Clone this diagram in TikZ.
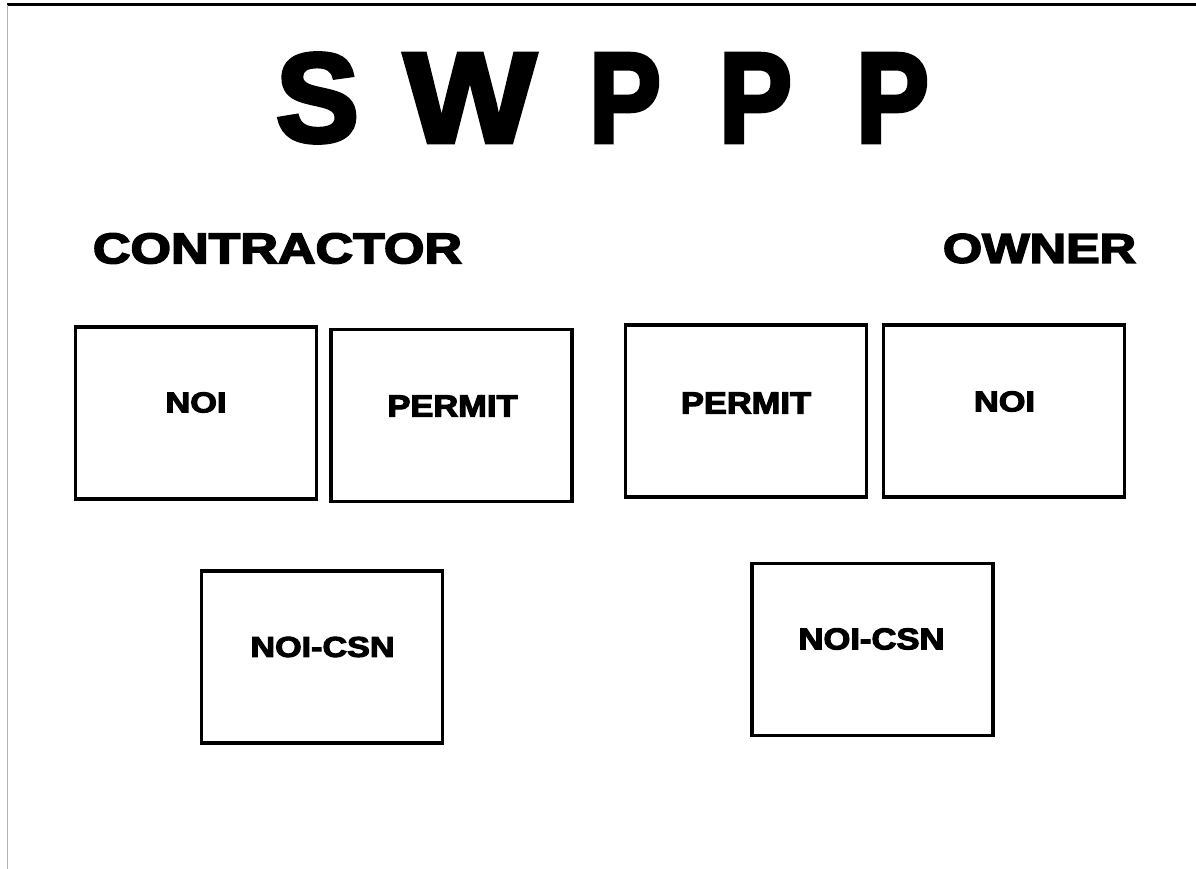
\documentclass[tikz,border=0pt]{standalone}
\usepackage{fontspec}
\usepackage{graphicx}
\newfontfamily\heavyfont[BoldFeatures={FakeBold=3.5}]{Liberation Sans}
\newcommand\fitto[3]{\resizebox{#1pt}{#2pt}{#3}}
\begin{document}
\begin{tikzpicture}[x=1pt,y=-1pt,
  lbl/.style={inner sep=0pt, outer sep=0pt, font=\heavyfont\bfseries},
  boxnode/.style={draw, line width=3.2pt, inner sep=0pt, minimum width=241pt, minimum height=172pt}]
\path[use as bounding box, fill=white] (0,0) rectangle (1196,869);
% frame lines
\coordinate (tl) at (7,5);
\coordinate (tr) at (1196,5);
\coordinate (bl) at (7,869);
\draw[line width=3pt] (tl) -- (tr);
\draw[line width=1pt, black!30] (tl) -- (bl);
% title letters
\node[lbl] (t1) at (317.5,98) {\fitto{83}{88}{S}};
\node[lbl] (t2) at (470,98) {\fitto{132}{88}{W}};
\node[lbl] (t3) at (625,98) {\fitto{72}{88}{P}};
\node[lbl] (t4) at (755.5,98) {\fitto{73}{88}{P}};
\node[lbl] (t5) at (892.5,98) {\fitto{73}{88}{P}};
% headings
\node[lbl] (contractor) at (277.5,248.5) {\fitto{369}{30}{CONTRACTOR}};
\node[lbl] (owner) at (1039.5,248.5) {\fitto{193}{29}{OWNER}};
% boxes
\node[boxnode] (b1) at (196,413) {};
\node[boxnode] (b2) at (451.5,415.5) {};
\node[boxnode] (b3) at (746,411) {};
\node[boxnode] (b4) at (1004,411) {};
\node[boxnode] (b5) at (322,657) {};
\node[boxnode] (b6) at (872.5,649.5) {};
% labels
\node[lbl] (l1) at (196,402.5) {\fitto{61}{20}{NOI}};
\node[lbl] (l2) at (452.5,406) {\fitto{130}{21}{PERMIT}};
\node[lbl] (l3) at (746,403) {\fitto{130}{21}{PERMIT}};
\node[lbl] (l4) at (1004.5,401.5) {\fitto{61}{20}{NOI}};
\node[lbl] (l5) at (322.5,647) {\fitto{144}{20}{NOI-CSN}};
\node[lbl] (l6) at (871.5,639) {\fitto{146}{21}{NOI-CSN}};
\end{tikzpicture}
\end{document}
